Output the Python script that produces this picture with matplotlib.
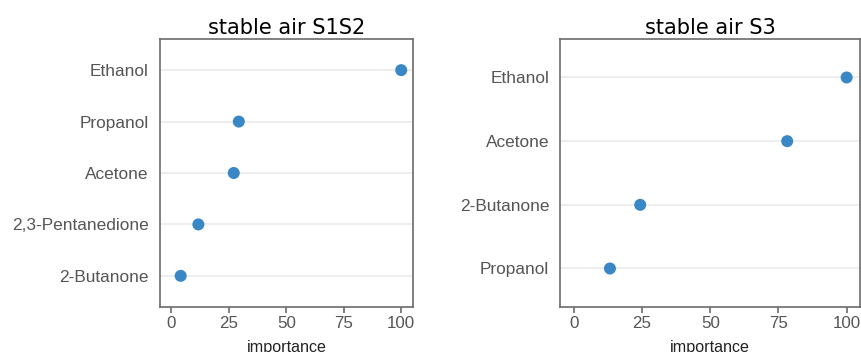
import matplotlib
matplotlib.use("Agg")
import matplotlib.pyplot as plt

titles = ["stable air S1S2", "stable air S3"]
left_labels = ["Ethanol", "Propanol", "Acetone", "2,3-Pentanedione", "2-Butanone"]
left_values = [100, 29.3, 27.1, 11.7, 4.0]
right_labels = ["Ethanol", "Acetone", "2-Butanone", "Propanol"]
right_values = [100, 78.2, 24.3, 13.2]
xticks = [0, 25, 50, 75, 100]
xlabel = "importance"

panels = [(left_labels, left_values), (right_labels, right_values)]
rects = [[0.1856, 0.1287, 0.2932, 0.7597], [0.650, 0.1287, 0.348, 0.7597]]

fig = plt.figure(figsize=(8.62, 3.52), dpi=100)
fig.patch.set_facecolor("white")
frame_col = "#6b6b6b"
tick_col = "#555555"

for (labels, values), rect, title in zip(panels, rects, titles):
    ax = fig.add_axes(rect)
    n = len(labels)
    ypos = list(range(n))[::-1]
    for y in ypos:
        ax.axhline(y, color="#ebebeb", lw=1.2, zorder=0)
    ax.scatter(values, ypos, s=75, color="#3a87c6", zorder=3, edgecolors="none")
    ax.set_yticks(ypos)
    ax.set_yticklabels(labels, fontfamily="Liberation Sans", fontsize=12.4, color=tick_col)
    ax.set_xticks(xticks)
    ax.set_xticklabels([str(t) for t in xticks], fontfamily="Liberation Sans", fontsize=12.2, color=tick_col)
    ax.set_xlim(-5, 105)
    ax.set_ylim(-0.6, n - 0.4)
    ax.tick_params(axis="y", length=0, pad=8)
    ax.tick_params(axis="x", length=4, width=1.2, color=frame_col, pad=3)
    for sp in ax.spines.values():
        sp.set_color(frame_col)
        sp.set_linewidth(1.2)
    ax.set_title(title, fontsize=15, fontfamily="DejaVu Sans", pad=4)
    ax.set_xlabel(xlabel, fontfamily="Liberation Sans", fontsize=11.6, color="#222222", labelpad=6)

fig.savefig("out.png", dpi=100, facecolor="white")
